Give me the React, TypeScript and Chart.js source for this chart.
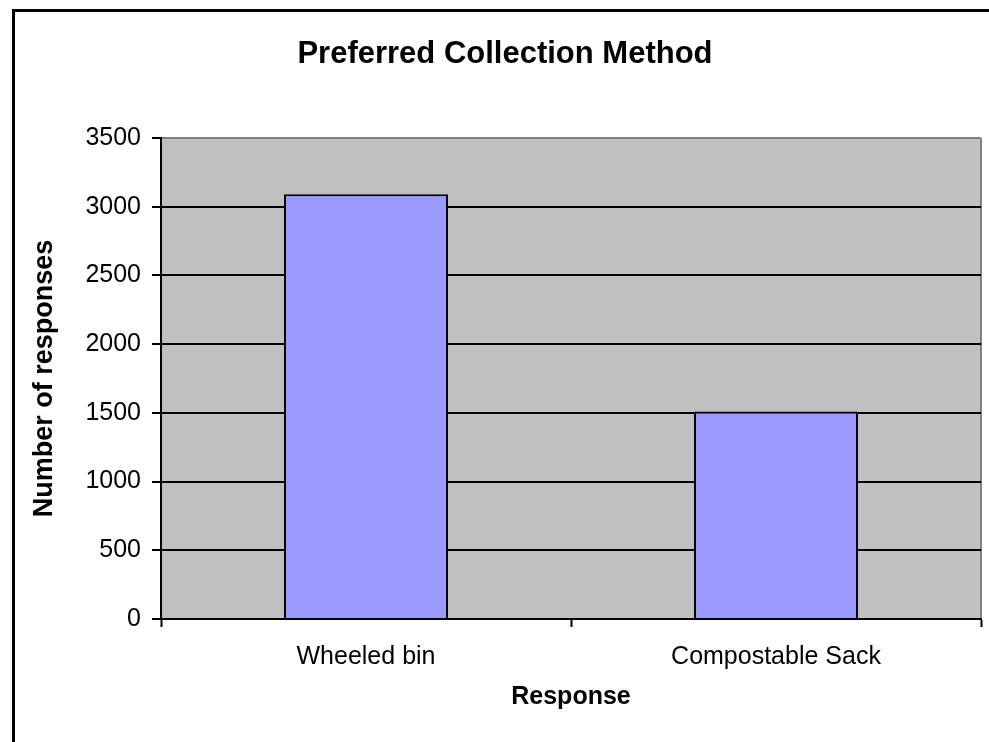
import React, { useEffect, useRef } from 'react';
import { Chart, registerables } from 'chart.js';

Chart.register(...registerables);

const categories = ['Wheeled bin', 'Compostable Sack'];
const responses = [3090, 1510];
const yMin = 0;
const yMax = 3500;
const yStep = 500;
const chartTitle = 'Preferred Collection Method';
const xAxisTitle = 'Response';
const yAxisTitle = 'Number of responses';

const FONT = '"Liberation Sans", Arial, sans-serif';

const decorPlugin = {
  id: 'decor',
  beforeDraw(chart: any) {
    const { ctx, chartArea } = chart;
    ctx.save();
    ctx.fillStyle = '#ffffff';
    ctx.fillRect(0, 0, chart.width, chart.height);
    // outer frame (left and top edges visible)
    ctx.strokeStyle = '#000';
    ctx.lineWidth = 3;
    ctx.beginPath();
    ctx.moveTo(13.5, chart.height + 5);
    ctx.lineTo(13.5, 10.5);
    ctx.lineTo(chart.width + 5, 10.5);
    ctx.stroke();
    // plot background
    ctx.fillStyle = '#C0C0C0';
    ctx.fillRect(chartArea.left, chartArea.top, chartArea.right - chartArea.left, chartArea.bottom - chartArea.top);
    // right plot border
    ctx.strokeStyle = '#808080';
    ctx.lineWidth = 2;
    ctx.beginPath();
    ctx.moveTo(chartArea.right, chartArea.top);
    ctx.lineTo(chartArea.right, chartArea.bottom);
    ctx.stroke();
    ctx.restore();
  },
  afterDraw(chart: any) {
    const { ctx, chartArea } = chart;
    ctx.save();
    ctx.fillStyle = '#000';
    ctx.textAlign = 'center';
    ctx.textBaseline = 'alphabetic';
    ctx.font = `bold 31px ${FONT}`;
    ctx.fillText(chartTitle, 505, 63);
    ctx.font = `bold 25px ${FONT}`;
    ctx.textBaseline = 'middle';
    ctx.fillText(xAxisTitle, (chartArea.left + chartArea.right) / 2, 697);
    ctx.font = `bold 27px ${FONT}`;
    ctx.translate(45, (chartArea.top + chartArea.bottom) / 2);
    ctx.rotate(-Math.PI / 2);
    ctx.fillText(yAxisTitle, 0, 0);
    ctx.restore();
  },
};

export default function App() {
  const canvasRef = useRef<HTMLCanvasElement | null>(null);

  useEffect(() => {
    if (!canvasRef.current) return;
    const chart = new Chart(canvasRef.current, {
      type: 'bar',
      data: {
        labels: categories,
        datasets: [
          {
            data: responses,
            backgroundColor: '#9999FF',
            borderColor: '#000000',
            borderWidth: 2,
            categoryPercentage: 1,
            barPercentage: 0.4,
          },
        ],
      },
      options: {
        responsive: false,
        animation: false,
        layout: { padding: { top: 138, right: 8, left: 0, bottom: 0 } },
        plugins: {
          legend: { display: false },
          title: { display: false },
          tooltip: { enabled: false },
        },
        scales: {
          x: {
            offset: true,
            afterFit: (s: any) => {
              s.height = 123;
            },
            grid: {
              display: true,
              offset: true,
              drawOnChartArea: false,
              drawTicks: true,
              tickLength: 8,
              tickColor: '#000',
              tickWidth: 2,
            },
            border: { display: true, color: '#000', width: 2 },
            ticks: {
              color: '#000',
              font: { family: FONT, size: 25 },
              padding: 15,
              maxRotation: 0,
            },
          },
          y: {
            min: yMin,
            max: yMax,
            afterFit: (s: any) => {
              s.width = 161;
            },
            grid: {
              color: (c: any) => (c.tick && c.tick.value === yMax ? '#808080' : '#000'),
              lineWidth: 2,
              tickColor: '#000',
              tickWidth: 2,
              tickLength: 9,
              drawTicks: true,
            },
            border: { display: true, color: '#000', width: 2 },
            ticks: {
              stepSize: yStep,
              color: '#000',
              font: { family: FONT, size: 25 },
              padding: 11,
              callback: (v: any) => String(v),
            },
          },
        },
      },
      plugins: [decorPlugin],
    });
    return () => chart.destroy();
  }, []);

  return (
    <div style={{ position: 'absolute', left: 0, top: 0, width: 989, height: 742 }}>
      <canvas ref={canvasRef} width={989} height={742} />
    </div>
  );
}
